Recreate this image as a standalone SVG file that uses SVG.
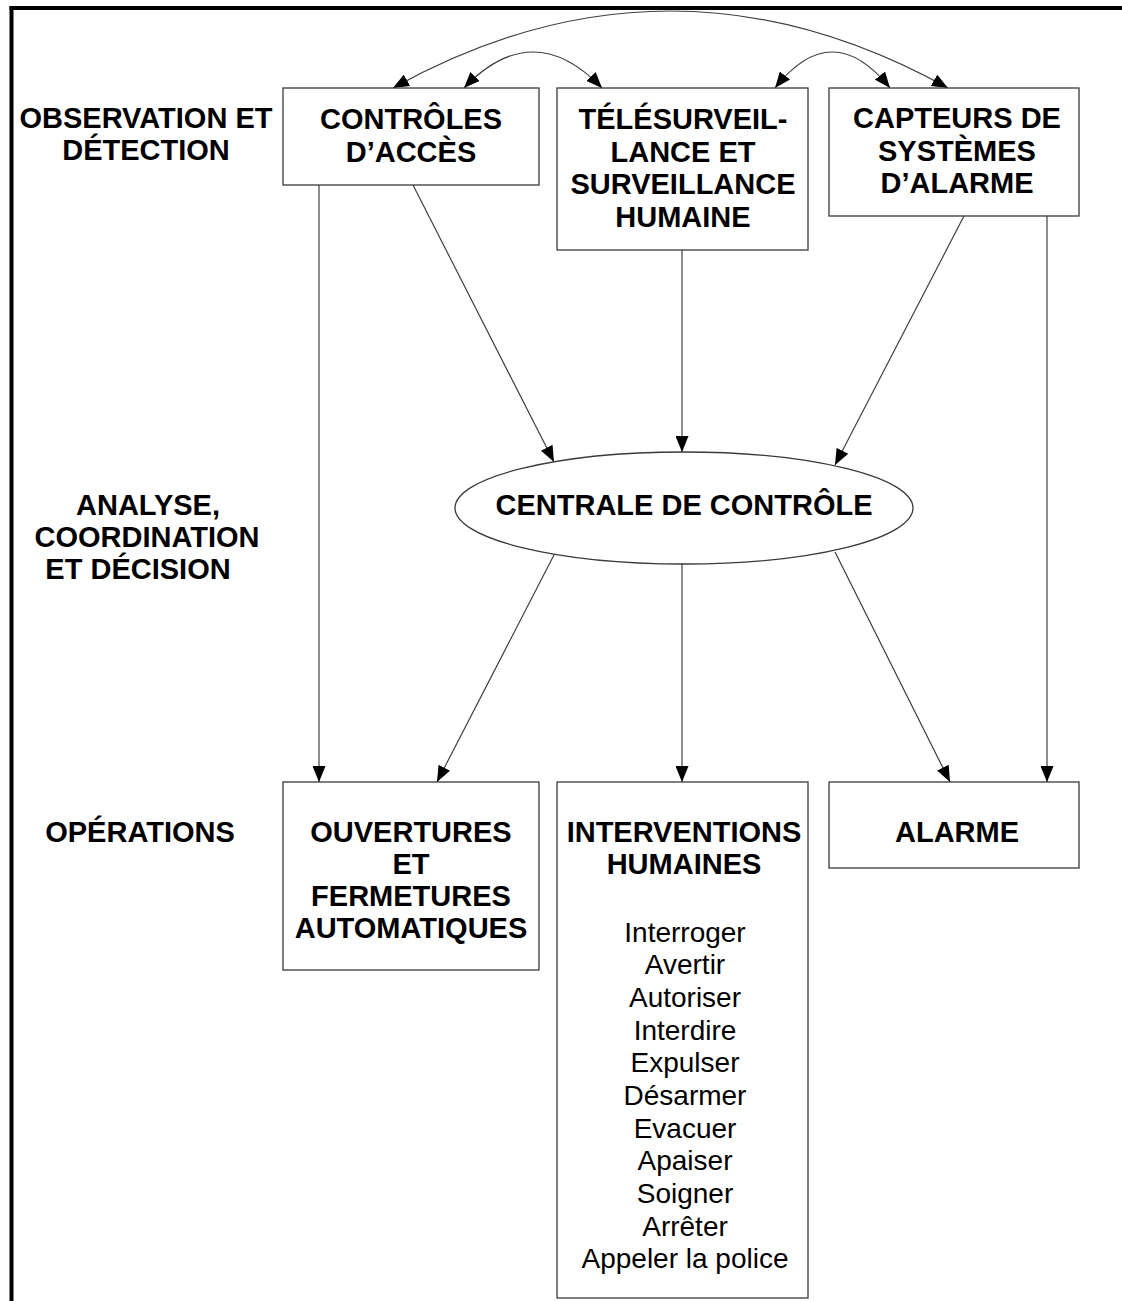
<svg xmlns="http://www.w3.org/2000/svg" width="1122" height="1301" viewBox="0 0 1122 1301">
<style>
.bold{font-family:"Liberation Sans",Arial,sans-serif;font-weight:bold;font-size:29px;fill:#000;text-anchor:middle}
.reg{font-family:"Liberation Sans",Arial,sans-serif;font-size:28px;fill:#000;text-anchor:middle}
.box{fill:#fff;stroke:#3a3a3a;stroke-width:1.3}
.edge{fill:none;stroke:#404040;stroke-width:1.2}
</style>
<defs>
<marker id="ah" viewBox="0 0 16 13" refX="16" refY="6.5" markerWidth="16" markerHeight="13" markerUnits="userSpaceOnUse" orient="auto-start-reverse">
<path d="M0,0 L16,6.5 L0,13 z" fill="#000"/>
</marker>
</defs>
<rect width="1122" height="1301" fill="#fff"/>
<g id="frame" stroke="#000" stroke-width="4" fill="none">
<line x1="9.5" y1="8" x2="1122" y2="8"/>
<line x1="11.5" y1="6" x2="11.5" y2="1301"/>
</g>
<g id="labels">
<text class="bold" x="146" y="128">OBSERVATION ET</text>
<text class="bold" x="146" y="160">DÉTECTION</text>
<text class="bold" x="148" y="515">ANALYSE,</text>
<text class="bold" x="147" y="547">COORDINATION</text>
<text class="bold" x="138" y="579">ET DÉCISION</text>
<text class="bold" x="140" y="842">OPÉRATIONS</text>
</g>
<g id="connectors">
<path class="edge" d="M393,88 Q670,-66 948,88" marker-start="url(#ah)" marker-end="url(#ah)"/>
<path class="edge" d="M464,88 Q533,16 602,88" marker-start="url(#ah)" marker-end="url(#ah)"/>
<path class="edge" d="M775,88 Q832,16 890,88" marker-start="url(#ah)" marker-end="url(#ah)"/>
<line class="edge" x1="319" y1="185" x2="319" y2="782" marker-end="url(#ah)"/>
<line class="edge" x1="413" y1="185" x2="554" y2="462" marker-end="url(#ah)"/>
<line class="edge" x1="682" y1="250" x2="682" y2="452" marker-end="url(#ah)"/>
<line class="edge" x1="964" y1="216" x2="835" y2="465" marker-end="url(#ah)"/>
<line class="edge" x1="1047" y1="216" x2="1047" y2="782" marker-end="url(#ah)"/>
<line class="edge" x1="555" y1="553" x2="437" y2="782" marker-end="url(#ah)"/>
<line class="edge" x1="682" y1="564" x2="682" y2="782" marker-end="url(#ah)"/>
<line class="edge" x1="835" y1="552" x2="950" y2="782" marker-end="url(#ah)"/>
</g>
<g id="controles">
<rect class="box" x="283" y="88" width="256" height="97"/>
<text class="bold" x="411" y="129">CONTRÔLES</text>
<text class="bold" x="411" y="161.5">D’ACCÈS</text>
</g>
<g id="telesurveillance">
<rect class="box" x="557" y="88" width="251" height="162"/>
<text class="bold" x="683" y="129">TÉLÉSURVEIL-</text>
<text class="bold" x="683" y="161.5">LANCE ET</text>
<text class="bold" x="683" y="194">SURVEILLANCE</text>
<text class="bold" x="683" y="226.5">HUMAINE</text>
</g>
<g id="capteurs">
<rect class="box" x="829" y="88" width="250" height="128"/>
<text class="bold" x="957" y="128">CAPTEURS DE</text>
<text class="bold" x="957" y="160.5">SYSTÈMES</text>
<text class="bold" x="957" y="193">D’ALARME</text>
</g>
<g id="centrale">
<ellipse class="box" cx="684" cy="508" rx="229" ry="56"/>
<text class="bold" x="684" y="515">CENTRALE DE CONTRÔLE</text>
</g>
<g id="ouvertures">
<rect class="box" x="283" y="782" width="256" height="188"/>
<text class="bold" x="411" y="842">OUVERTURES</text>
<text class="bold" x="411" y="874">ET</text>
<text class="bold" x="411" y="906">FERMETURES</text>
<text class="bold" x="411" y="938">AUTOMATIQUES</text>
</g>
<g id="interventions">
<rect class="box" x="557" y="782" width="251" height="516"/>
<text class="bold" x="684" y="842">INTERVENTIONS</text>
<text class="bold" x="684" y="874">HUMAINES</text>
<text class="reg" x="685" y="941.5">Interroger</text>
<text class="reg" x="685" y="974">Avertir</text>
<text class="reg" x="685" y="1006.8">Autoriser</text>
<text class="reg" x="685" y="1039.5">Interdire</text>
<text class="reg" x="685" y="1072">Expulser</text>
<text class="reg" x="685" y="1104.8">Désarmer</text>
<text class="reg" x="685" y="1137.5">Evacuer</text>
<text class="reg" x="685" y="1170">Apaiser</text>
<text class="reg" x="685" y="1202.8">Soigner</text>
<text class="reg" x="685" y="1235.5">Arrêter</text>
<text class="reg" x="685" y="1268">Appeler la police</text>
</g>
<g id="alarme">
<rect class="box" x="829" y="782" width="250" height="86"/>
<text class="bold" x="957" y="842">ALARME</text>
</g>
</svg>
